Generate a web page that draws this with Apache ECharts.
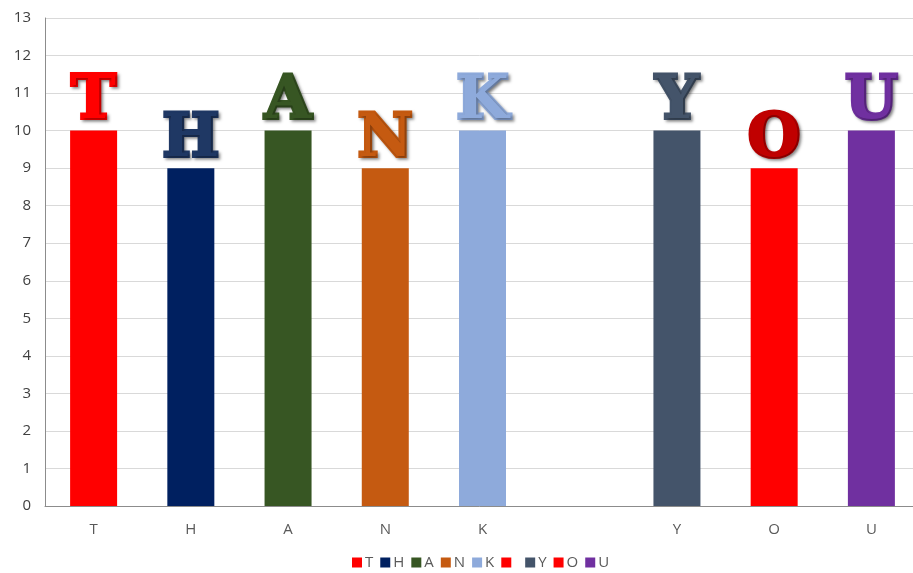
<!DOCTYPE html>
<html>
<head>
<meta charset="utf-8">
<script src="https://cdn.jsdelivr.net/npm/echarts@6/dist/echarts.min.js"></script>
<style>
  html, body { margin: 0; padding: 0; background: #fff; }
  #chart { width: 913px; height: 573px; }
</style>
</head>
<body>
<div id="chart"></div>
<script>
// Categories along the x axis (one empty slot between the two words)
const categories = ['T', 'H', 'A', 'N', 'K', '', 'Y', 'O', 'U'];
// One series per letter; the blank slot has its own series with no value
const seriesNames = ['T', 'H', 'A', 'N', 'K', ' ', 'Y', 'O', 'U'];
const values = [10, 9, 10, 9, 10, null, 10, 9, 10];
const barColors = ['#ff0000', '#002060', '#375623', '#c55a11', '#8eaadb', '#ff0000', '#44546a', '#ff0000', '#7030a0'];
const letterColors = ['#ff0000', '#1f3864', '#375623', '#c55a11', '#8eaadb', '#ff0000', '#44546a', '#c00000', '#7030a0'];
const yTicks = { min: 0, max: 13, interval: 1 };

const chart = echarts.init(document.getElementById('chart'), null, { renderer: 'canvas' });

const series = seriesNames.map((name, i) => {
  const data = categories.map((_, j) => (j === i ? values[i] : '-'));
  return {
    name: name,
    type: 'bar',
    stack: 'letters',
    barWidth: 47,
    data: data,
    itemStyle: { color: barColors[i] },
    label: {
      show: values[i] != null && name.trim() !== '',
      position: 'top',
      distance: -2,
      formatter: () => name,
      fontFamily: 'DejaVu Serif',
      fontWeight: 'bold',
      fontSize: 60,
      lineHeight: 60,
      color: letterColors[i],
      textBorderColor: letterColors[i],
      textBorderWidth: 4,
      textShadowColor: 'rgba(0,0,0,0.35)',
      textShadowBlur: 3,
      textShadowOffsetX: 2,
      textShadowOffsetY: 2
    }
  };
});

chart.setOption({
  animation: false,
  backgroundColor: '#ffffff',
  grid: { left: 45, width: 875, top: 18, bottom: 67, containLabel: false, outerBoundsMode: 'none' },
  legend: {
    top: 555,
    left: 347,
    padding: [0, 5],
    itemWidth: 10,
    itemHeight: 10,
    itemGap: 7,
    icon: 'rect',
    textStyle: { fontFamily: 'Open Sans', fontSize: 15, color: '#595959', padding: [0, 0, 0, -2] },
    data: seriesNames
  },
  xAxis: {
    type: 'category',
    data: categories,
    axisLine: { lineStyle: { color: '#8c8c8c' } },
    axisTick: { show: false },
    axisLabel: { fontFamily: 'Open Sans', fontSize: 15, color: '#595959', margin: 16 }
  },
  yAxis: {
    type: 'value',
    min: yTicks.min,
    max: yTicks.max,
    interval: yTicks.interval,
    axisLine: { show: true, lineStyle: { color: '#8c8c8c' } },
    axisTick: { show: false },
    axisLabel: { fontFamily: 'Open Sans', fontSize: 15, color: '#404040', margin: 14 },
    splitLine: { lineStyle: { color: '#d9d9d9' } }
  },
  series: series
});
</script>
</body>
</html>
